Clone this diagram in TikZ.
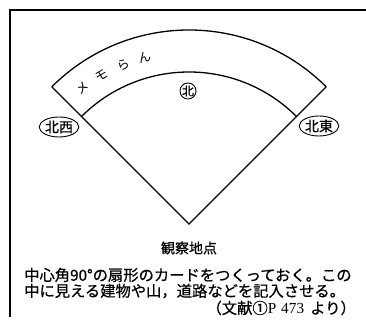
\documentclass[tikz,border=0pt]{standalone}
\usepackage{fontspec}
\usetikzlibrary{calc,shapes.geometric}
\newfontfamily\jp[FakeBold=0.7]{Noto Sans CJK JP}
\newfontfamily\jpl{Noto Sans CJK JP}
\newfontfamily\lat{Liberation Serif}
\begin{document}
\begin{tikzpicture}[x=1pt,y=1pt,
  frameline/.style={line width=1.4pt},
  fanline/.style={line width=1.3pt},
  dirlabel/.style={draw,ellipse,line width=0.9pt,inner sep=0pt,minimum width=39pt,minimum height=20pt,font=\jp\fontsize{14}{14}\selectfont},
  chartext/.style={font=\jpl\fontsize{12.5}{12.5}\selectfont,inner sep=0pt},
  bodytext/.style={font=\jp\fontsize{15.3}{15.3}\selectfont,inner sep=0pt,anchor=west}
]
\useasboundingbox (0,0) rectangle (366,320);
% frame
\coordinate (fbl) at (10,3);
\coordinate (ftl) at (10,310);
\coordinate (ftr) at (366,310);
\draw[frameline] (fbl) -- (ftl) -- (ftr);
% fan
\coordinate (O) at (189,96);
\path (O) ++(135:194) coordinate (oL) (O) ++(45:194) coordinate (oR)
      (O) ++(135:152) coordinate (iL) (O) ++(45:152) coordinate (iR);
\draw[fanline] (oL) -- (O) -- (oR);
\draw[fanline] (oR) arc[start angle=45,end angle=135,radius=194];
\draw[fanline] (iR) arc[start angle=45,end angle=135,radius=152];
% memo label
\foreach \ch/\a in {メ/128,モ/120.5,ら/112.5,ん/105}{
  \node[chartext,rotate=\a-90] (m\a) at ($(O)+(\a:172)$) {\ch};
}
% directions
\node[dirlabel] (nw) at (59,193) {北西};
\node[dirlabel] (ne) at (319,194) {北東};
\node[draw,circle,line width=0.9pt,inner sep=0pt,minimum size=16pt,font=\jp\fontsize{12}{12}\selectfont] (n) at (188,229) {北};
% observation point
\node[font=\jp\fontsize{14}{14}\selectfont,inner sep=0pt] (obs) at (189,72) {観察地点};
% body text
\node[bodytext] (l1) at (24,45) {中心角90°の扇形のカードをつくっておく。この};
\node[bodytext] (l2) at (24,29) {中に見える建物や山，道路などを記入させる。};
\node[font=\jp\fontsize{15.3}{15.3}\selectfont,inner sep=0pt,anchor=east] (l3) at (356,12) {（文献①{\lat\fontsize{15.3}{15.3}\selectfont P\hspace{5pt}473\hspace{6pt}}より）};
\end{tikzpicture}
\end{document}
